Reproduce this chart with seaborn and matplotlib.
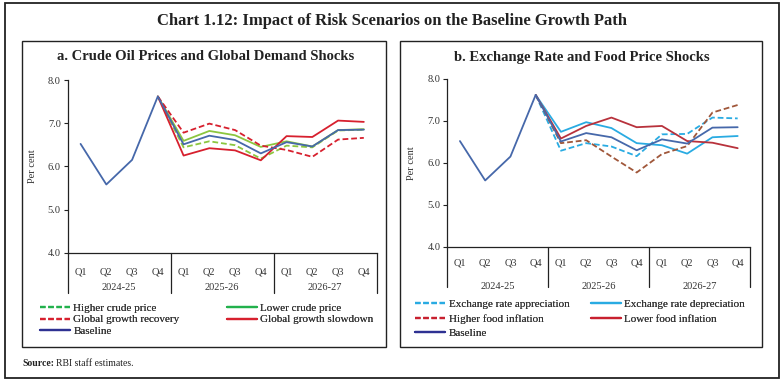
import numpy as np
import pandas as pd
import seaborn as sns
import matplotlib.pyplot as plt
from matplotlib.lines import Line2D
from matplotlib.patches import Rectangle

# data
quarters = ["Q1", "Q2", "Q3", "Q4"] * 3
years = ["2024-25", "2025-26", "2026-27"]
nan = np.nan

baseline = [6.52, 5.58, 6.15, 7.62, 6.51, 6.71, 6.61, 6.30, 6.56, 6.46, 6.84, 6.85]

# panel a
higher_crude = [nan, nan, nan, 7.62, 6.44, 6.58, 6.49, 6.18, 6.48, 6.44, 6.83, 6.85]
lower_crude = [nan, nan, nan, 7.62, 6.59, 6.82, 6.72, 6.45, 6.58, 6.46, 6.84, 6.86]
growth_recovery = [nan, nan, nan, 7.62, 6.78, 6.99, 6.84, 6.48, 6.38, 6.22, 6.62, 6.66]
growth_slowdown = [nan, nan, nan, 7.62, 6.25, 6.42, 6.37, 6.14, 6.70, 6.68, 7.06, 7.03]

# panel b
er_appreciation = [nan, nan, nan, 7.62, 6.29, 6.47, 6.39, 6.16, 6.68, 6.69, 7.08, 7.06]
er_depreciation = [nan, nan, nan, 7.62, 6.74, 6.97, 6.83, 6.47, 6.42, 6.22, 6.61, 6.64]
higher_food = [nan, nan, nan, 7.62, 6.47, 6.54, 6.15, 5.77, 6.21, 6.40, 7.20, 7.38]
lower_food = [nan, nan, nan, 7.62, 6.58, 6.88, 7.08, 6.85, 6.88, 6.52, 6.48, 6.35]

W, H = 784, 382
sns.set_style("white")
plt.rcParams['font.family'] = ['Liberation Serif', 'DejaVu Serif']

fig = plt.figure(figsize=(W / 100, H / 100), dpi=100)


def fx(x):
    return x / W


def fy(y):
    return 1 - y / H


def box(x0, y0, x1, y1, lw=1.0):
    fig.patches.append(Rectangle((fx(x0), fy(y1)), fx(x1) - fx(x0), fy(y0) - fy(y1),
                                 transform=fig.transFigure, fill=False,
                                 edgecolor="#222222", lw=lw))


box(4.7, 3.3, 779, 378, lw=1.3)
box(22.3, 40.7, 386, 346.7)
box(400, 40.7, 762, 346.7)

fig.text(0.5, fy(21), "Chart 1.12: Impact of Risk Scenarios on the Baseline Growth Path",
         ha="center", va="center", fontsize=12, fontweight="bold", color="#222222")
fig.text(fx(206), fy(57), "a. Crude Oil Prices and Global Demand Shocks",
         ha="center", va="center", fontsize=10.5, fontweight="bold", color="#222222")
fig.text(fx(582), fy(57), "b. Exchange Rate and Food Price Shocks",
         ha="center", va="center", fontsize=10.5, fontweight="bold", color="#222222")
fig.text(fx(22), fy(363), "Source:", ha="left", va="center", fontsize=7,
         fontweight="bold", color="#222222")
fig.text(fx(56), fy(363), "RBI staff estimates.", ha="left", va="center",
         fontsize=7, color="#222222")

DASH = (0, (3.2, 1.6))


def setup_axis(ax, q_off, y_off):
    x = np.arange(12)
    ax.set_xlim(-0.5, 11.5)
    ax.set_ylim(4.0, 8.0)
    ax.set_yticks([4, 5, 6, 7, 8])
    ax.set_yticklabels([f"{v:.1f}" for v in [4, 5, 6, 7, 8]], fontsize=7.5, color="#333333")
    ax.set_xticks(x)
    ax.set_xticklabels([])
    ax.set_xticks(np.arange(0.5, 11, 1), minor=True)
    ax.tick_params(axis="x", which="major", length=0)
    ax.tick_params(axis="x", which="minor", length=3, width=0.8, color="#222222", direction="out")
    ax.tick_params(axis="y", length=3, width=0.8, color="#222222", pad=2, left=True)
    for s in ["top", "right"]:
        ax.spines[s].set_visible(False)
    for s in ["left", "bottom"]:
        ax.spines[s].set_color("#222222")
        ax.spines[s].set_linewidth(0.9)
    ax.set_ylabel("Per cent", fontsize=7.5, color="#333333", labelpad=8)
    ax.set_xlabel("")
    tr = ax.get_xaxis_transform()
    h_ax = ax.get_position().height * H
    for i, q in enumerate(quarters):
        ax.text(i, -q_off / h_ax, q, transform=tr, ha="center", va="center",
                fontsize=7.5, color="#333333")
    for i, yr in enumerate(years):
        ax.text(4 * i + 1.5, -y_off / h_ax, yr, transform=tr, ha="center", va="center",
                fontsize=7.5, color="#333333")
    for b in [-0.5, 3.5, 7.5, 11.5]:
        ax.plot([b, b], [0, -40.6 / h_ax], transform=tr, color="#222222", lw=0.9,
                clip_on=False)


def draw(ax, values, color, dashed):
    ls = DASH if dashed else "-"
    sns.lineplot(x=np.arange(12), y=values, color=color, linestyle=ls, lw=1.3,
                 ax=ax, legend=False)


def legend_col(handles, labels, x, y, spacing):
    leg = fig.legend(handles, labels, loc="upper left",
                     bbox_to_anchor=(fx(x), fy(y)), frameon=False, fontsize=8,
                     handlelength=2.7, handletextpad=0.3, borderpad=0,
                     borderaxespad=0, labelspacing=spacing)
    for t in leg.get_texts():
        t.set_color("#333333")
    return leg


# panel a
ax1 = fig.add_axes([fx(67.7), fy(252.7), fx(376.7) - fx(67.7), fy(80) - fy(252.7)])
draw(ax1, higher_crude, "#8cc63f", True)
draw(ax1, lower_crude, "#8cc63f", False)
draw(ax1, growth_recovery, "#d7202e", True)
draw(ax1, growth_slowdown, "#d7202e", False)
draw(ax1, baseline, "#4668aa", False)
setup_axis(ax1, 19, 34.6)

hc = Line2D([], [], color="#22b14c", lw=1.6, linestyle=(0, (2.5, 1.2)))
lc = Line2D([], [], color="#22b14c", lw=1.6)
gr = Line2D([], [], color="#d7202e", lw=1.6, linestyle=(0, (2.5, 1.2)))
gs = Line2D([], [], color="#d7202e", lw=1.6)
bl = Line2D([], [], color="#2e3192", lw=1.6)
fig.add_artist(legend_col([hc, gr, bl], ["Higher crude price", "Global growth recovery", "Baseline"],
                          40, 303.5, 0.12))
fig.add_artist(legend_col([lc, gs], ["Lower crude price", "Global growth slowdown"],
                          226.7, 303.5, 0.12))

# panel b
ax2 = fig.add_axes([fx(447.3), fy(246.7), fx(750.3) - fx(447.3), fy(79) - fy(246.7)])
draw(ax2, er_appreciation, "#29abe2", True)
draw(ax2, er_depreciation, "#29abe2", False)
draw(ax2, higher_food, "#a0573a", True)
draw(ax2, lower_food, "#b8323c", False)
draw(ax2, baseline, "#4668aa", False)
setup_axis(ax2, 16.3, 40)

ea = Line2D([], [], color="#29abe2", lw=1.6, linestyle=(0, (2.5, 1.2)))
ed = Line2D([], [], color="#29abe2", lw=1.6)
hf = Line2D([], [], color="#c8202f", lw=1.6, linestyle=(0, (2.5, 1.2)))
lf = Line2D([], [], color="#c8202f", lw=1.6)
fig.add_artist(legend_col([ea, hf, bl], ["Exchange rate appreciation", "Higher food inflation", "Baseline"],
                          415.3, 299.5, 0.4))
fig.add_artist(legend_col([ed, lf], ["Exchange rate depreciation", "Lower food inflation"],
                          591, 299.5, 0.4))

fig.savefig("out.png", dpi=100)
